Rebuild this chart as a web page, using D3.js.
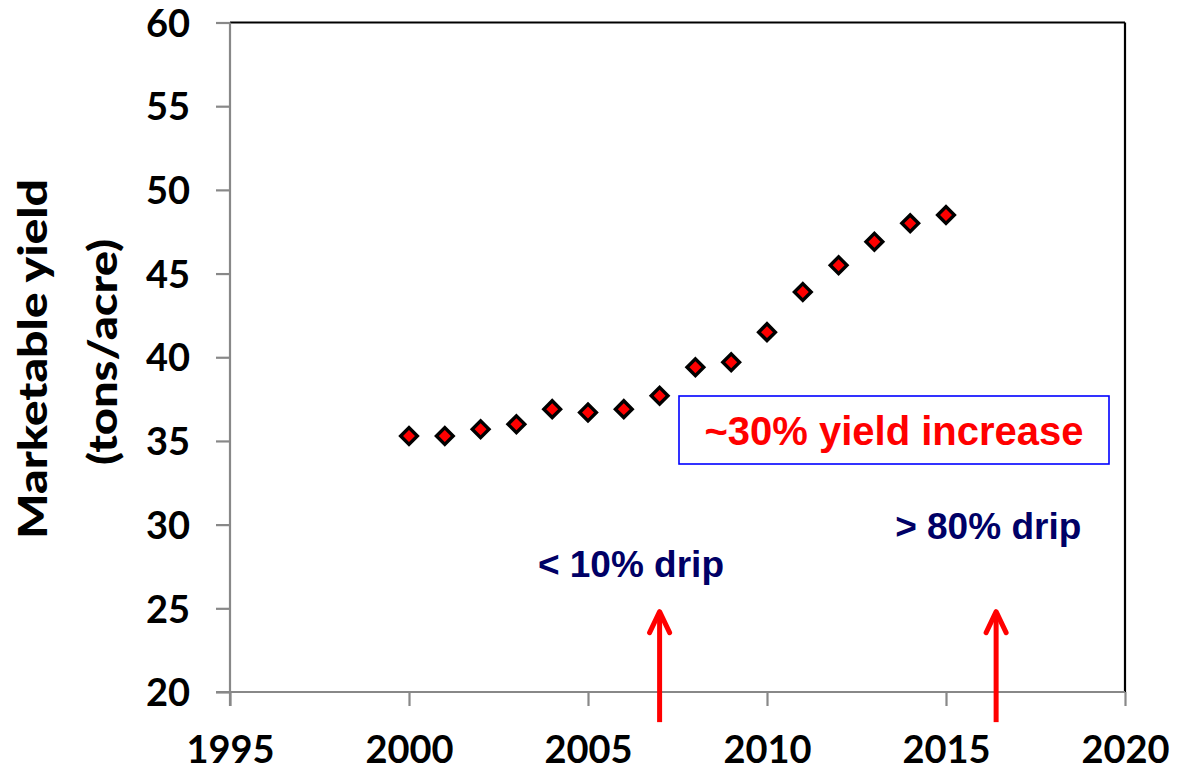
<!DOCTYPE html>
<html>
<head>
<meta charset="utf-8">
<script src="https://cdn.jsdelivr.net/npm/d3@7"></script>
<style>
  html, body { margin: 0; padding: 0; background: #fff; }
  svg { display: block; }
</style>
</head>
<body>
<svg id="chart" width="1185" height="771"></svg>
<script>
// Marketable yield by year
const years = [2000, 2001, 2002, 2003, 2004, 2005, 2006, 2007, 2008, 2009, 2010, 2011, 2012, 2013, 2014, 2015];
const yieldTons = [35.3, 35.3, 35.7, 36.0, 36.9, 36.7, 36.9, 37.7, 39.4, 39.7, 41.5, 43.9, 45.5, 46.9, 48.0, 48.5];

// Axis ticks
const xTicks = [1995, 2000, 2005, 2010, 2015, 2020];
const yTicks = [20, 25, 30, 35, 40, 45, 50, 55, 60];

// Irrigation shift markers (year, value at arrow tip)
const arrowYears = [2007, 2016.4];
const arrowTip = 24.8;
const arrowBase = 18.2;

const svg = d3.select("#chart");
const plotLeft = 230, plotRight = 1125, plotTop = 22.5, plotBottom = 692;

const x = d3.scaleLinear().domain([1995, 2020]).range([plotLeft, plotRight]);
const y = d3.scaleLinear().domain([20, 60]).range([plotBottom, plotTop]);

const numFont = "Lato, 'Open Sans', sans-serif";
const arialBold = "'Liberation Sans', Arial, sans-serif";

// plot frame: top and right edges
svg.append("line")
  .attr("x1", plotLeft).attr("x2", plotRight).attr("y1", plotTop).attr("y2", plotTop)
  .attr("stroke", "#000").attr("stroke-width", 2.2);
svg.append("line")
  .attr("x1", plotRight).attr("x2", plotRight).attr("y1", plotTop).attr("y2", plotBottom)
  .attr("stroke", "#000").attr("stroke-width", 2.2);

// x axis
const xAxis = svg.append("g")
  .attr("transform", `translate(0,${plotBottom})`)
  .call(d3.axisBottom(x).tickValues(xTicks).tickFormat(d3.format("d")).tickSize(14).tickSizeOuter(0).tickPadding(0));
xAxis.select(".domain").attr("stroke", "#888").attr("stroke-width", 2.2)
  .attr("d", `M${plotLeft - 14},0H${plotRight}`);
xAxis.selectAll(".tick line").attr("stroke", "#888").attr("stroke-width", 2.2);
xAxis.selectAll(".tick text")
  .attr("y", 71).attr("dy", null)
  .attr("fill", "#000")
  .style("font-family", numFont).style("font-weight", 700).style("font-size", "38px");

// y axis
const yAxis = svg.append("g")
  .attr("transform", `translate(${plotLeft},0)`)
  .call(d3.axisLeft(y).tickValues(yTicks).tickSize(14).tickSizeOuter(0).tickPadding(0));
yAxis.select(".domain").attr("stroke", "#888").attr("stroke-width", 2.2)
  .attr("d", `M0,${plotTop}V${plotBottom + 14}`);
yAxis.selectAll(".tick line").attr("stroke", "#888").attr("stroke-width", 2.2);
yAxis.selectAll(".tick text")
  .attr("x", -40).attr("dy", "0.36em")
  .attr("fill", "#000")
  .style("font-family", numFont).style("font-weight", 700).style("font-size", "38px");

// y axis title (two lines)
const title = svg.append("g")
  .style("font-family", numFont).style("font-weight", 900).style("font-size", "40px")
  .attr("fill", "#000").attr("text-anchor", "middle");
title.append("text")
  .attr("transform", "translate(47,359) rotate(-90)")
  .attr("textLength", 360).attr("lengthAdjust", "spacingAndGlyphs")
  .text("Marketable yield");
title.append("text")
  .attr("transform", "translate(117,352) rotate(-90)")
  .attr("textLength", 226).attr("lengthAdjust", "spacingAndGlyphs")
  .text("(tons/acre)");

// data markers: red diamonds with black outline
svg.append("g").selectAll("path")
  .data(years.map((yr, i) => ({ yr, v: yieldTons[i] })))
  .join("path")
  .attr("d", d3.symbol(d3.symbolSquare, 140)())
  .attr("transform", d => `translate(${x(d.yr)},${y(d.v)}) rotate(45)`)
  .attr("fill", "#ff0000")
  .attr("stroke", "#000")
  .attr("stroke-width", 3.4);

// "~30% yield increase" callout box
svg.append("rect")
  .attr("x", 679).attr("y", 396).attr("width", 430).attr("height", 68)
  .attr("fill", "#fff").attr("stroke", "#0000ff").attr("stroke-width", 1.6);
svg.append("text")
  .attr("x", 894).attr("y", 445)
  .attr("text-anchor", "middle")
  .attr("fill", "#ff0000")
  .style("font-family", arialBold).style("font-weight", 700).style("font-size", "40px")
  .text("~30% yield increase");

// drip share labels
svg.append("text")
  .attr("x", x(2003.6)).attr("y", y(26.9))
  .attr("fill", "#000066")
  .style("font-family", arialBold).style("font-weight", 700).style("font-size", "37px")
  .text("< 10% drip");
svg.append("text")
  .attr("x", x(2013.58)).attr("y", y(29.15))
  .attr("fill", "#000066")
  .style("font-family", arialBold).style("font-weight", 700).style("font-size", "37px")
  .text("> 80% drip");

// upward red arrows
const arrows = svg.append("g")
  .attr("stroke", "#ff0000").attr("stroke-width", 5)
  .attr("stroke-linecap", "round").attr("stroke-linejoin", "round").attr("fill", "none");
arrowYears.forEach(yr => {
  const ax = x(yr), tipY = y(arrowTip), baseY = y(arrowBase);
  arrows.append("line")
    .attr("x1", ax).attr("x2", ax).attr("y1", baseY).attr("y2", tipY + 2)
    .attr("stroke-linecap", "butt");
  arrows.append("path")
    .attr("d", `M${ax - 10},${tipY + 21}L${ax},${tipY}L${ax + 10},${tipY + 21}`);
});
</script>
</body>
</html>
